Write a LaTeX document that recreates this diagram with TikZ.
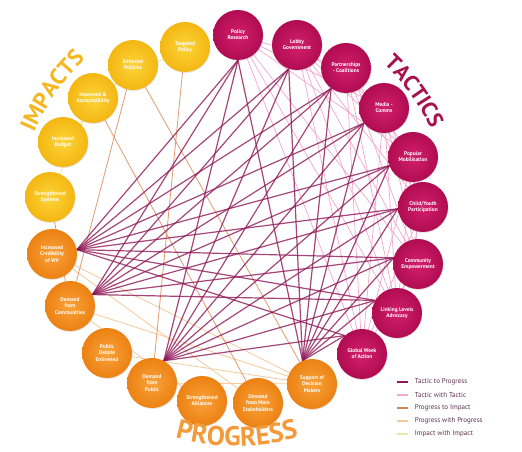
\documentclass[tikz,border=0pt]{standalone}
\usepackage{fontspec}
\setmainfont{PT Sans}
\usetikzlibrary{decorations.text,shadows}
\definecolor{tacIn}{HTML}{D4206C}
\definecolor{tacOut}{HTML}{B00C52}
\definecolor{tacTxt}{HTML}{A8104E}
\definecolor{proIn}{HTML}{F9A23A}
\definecolor{proOut}{HTML}{EC8112}
\definecolor{proTxt}{HTML}{F39A3A}
\definecolor{impIn}{HTML}{FCD43A}
\definecolor{impOut}{HTML}{F4B712}
\definecolor{impTxt}{HTML}{F5B61E}
\definecolor{ctp}{HTML}{8E1858}
\definecolor{ctt}{HTML}{F2A8CE}
\definecolor{cpi}{HTML}{D9844E}
\definecolor{cpp}{HTML}{F7CA9C}
\definecolor{cii}{HTML}{E4EAA6}
\definecolor{legTxt}{HTML}{5A3050}
\pgfdeclarelayer{bg}
\pgfdeclarelayer{edges}
\pgfsetlayers{bg,edges,main}
\tikzset{
  ball/.style={circle, minimum size=50pt, inner sep=0pt, align=center,
    font=\fontsize{5.4}{6.2}\selectfont\bfseries, text=white,
    drop shadow={shadow xshift=0.6pt, shadow yshift=-1pt, opacity=0.2}},
  tac/.style={ball, inner color=tacIn, outer color=tacOut},
  pro/.style={ball, inner color=proIn, outer color=proOut},
  imp/.style={ball, inner color=impIn, outer color=impOut},
  tp/.style={draw=ctp, line width=1.2pt, opacity=0.8},
  tt/.style={draw=ctt, line width=0.7pt},
  pi/.style={draw=cpi, line width=0.8pt, opacity=0.8},
  pp/.style={draw=cpp, line width=0.8pt},
  ii/.style={draw=cii, line width=0.8pt},
  legtext/.style={anchor=west, inner sep=0pt, font=\fontsize{7}{8}\selectfont, text=legTxt}
}
\begin{document}
\begin{tikzpicture}[x=1pt,y=1pt]
\begin{pgfonlayer}{bg}
\fill[white] (0,0) rectangle (522,452);
\end{pgfonlayer}
\useasboundingbox (0,0) rectangle (522,452);
% tactics
\node[tac] (PR) at (238,417) {Policy\\Research};
\node[tac] (LG) at (297,407) {Lobby\\Government};
\node[tac] (PC) at (346,384) {Partnerships\\- Coalitions};
\node[tac] (MC) at (384,344) {Media -\\Comms};
\node[tac] (PM) at (413,295) {Popular\\Mobilisation};
\node[tac] (CY) at (423,245) {Child/Youth\\Participation};
\node[tac] (CE) at (418,188) {Community\\Empowerment};
\node[tac] (LL) at (397,139) {Linking Levels\\Advocacy};
\node[tac] (GW) at (362,98) {Global Week\\of Action};
% progress
\node[pro] (SDM) at (312,68) {Support of\\Decision\\Makers};
\node[pro] (DMS) at (258,49) {Demand\\from Main\\Stakeholders};
\node[pro] (SA) at (202,51) {Strengthened\\Alliances};
\node[pro] (DP) at (152,69) {Demand\\from\\Public};
\node[pro] (PD) at (107,99) {Public\\Debate\\Enlivened};
\node[pro] (DG) at (70,146) {Demand\\from\\Communities};
\node[pro] (IC) at (52,198) {Increased\\Credibility\\of WV};
% impacts
\node[imp] (SS) at (50,255) {Strengthened\\Systems};
\node[imp] (IB) at (63,310) {Increased\\Budget};
\node[imp] (IA) at (93,354) {Improved \&\\Accountability};
\node[imp] (EN) at (133,387) {Enforced\\Policies};
\node[imp] (TP) at (185,405) {Targeted\\Policy};

\begin{pgfonlayer}{edges}
\foreach \a/\b in {PR/PC, PR/MC, PR/PM, PR/CE, PR/LL, PR/GW, LG/MC, LG/PM, LG/CY, LG/CE,
  LG/LL, LG/GW, PC/PM, PC/CY, PC/CE, PC/LL, PC/GW, MC/CY, MC/CE, MC/LL, MC/GW,
  PM/CE, PM/LL, PM/GW, CY/LL, CY/GW, CE/GW}
  \draw[tt] (\a) -- (\b);
\foreach \a/\b in {SS/IA, IB/EN, IA/TP}
  \draw[ii] (\a) -- (\b);
\foreach \a/\b in {IC/SDM, DG/SDM, DP/SDM, IC/DMS, DG/SA, PD/SDM}
  \draw[pp] (\a) -- (\b);
\foreach \a/\b in {EN/DG, EN/SDM, SS/DG, IA/DMS, TP/DP}
  \draw[pi] (\a) -- (\b);
\foreach \a/\ai/\b/\bi in {
  PR/270/IC/10, PR/270/DG/27, PR/270/DP/62, PR/270/SDM/112,
  LG/251/IC/10, LG/251/DG/27, LG/251/DP/62, LG/251/SDM/112,
  PC/234/IC/10, PC/234/DG/27, PC/234/DP/62, PC/234/SDM/112,
  MC/217/IC/10, MC/217/DG/27, MC/217/DP/62, MC/217/SDM/112,
  PM/200/IC/10, PM/200/DG/27, PM/200/DP/62, PM/200/SDM/112,
  CY/184/IC/10, CY/184/DG/27, CY/184/DP/62, CY/184/SDM/112,
  CE/166/IC/10, CE/166/DG/27, CE/166/DP/62, CE/166/SDM/112,
  LL/150/IC/10, LL/150/DG/27, LL/150/DP/62, LL/150/SDM/112,
  GW/133/IC/10, GW/133/DP/62, GW/133/SDM/112}
  \draw[tp] (\a.\ai) -- (\b.\bi);
\end{pgfonlayer}

% big arc labels
\path[decorate, decoration={text along path, text align=center,
  text={|\fontsize{22}{22}\selectfont\bfseries\color{tacTxt}|TACTICS}}]
  (237,232) ++(64:214) arc[start angle=64, end angle=8, radius=214];
\path[decorate, decoration={text along path, text align=center,
  text={|\fontsize{23}{23}\selectfont\bfseries\color{impTxt}|IMPACTS}}]
  (237,232) ++(176:221) arc[start angle=176, end angle=114, radius=221];
\path[decorate, decoration={text along path, text align=center,
  text={|\fontsize{27}{27}\selectfont\bfseries\color{proTxt}|PROGRESS}}]
  (237,232) ++(236:226) arc[start angle=236, end angle=304, radius=226];

% legend
\coordinate (L1) at (397,70);
\coordinate (L2) at (397,57);
\coordinate (L3) at (397,44);
\coordinate (L4) at (397,31);
\coordinate (L5) at (397,18);
\draw[draw=ctp, line width=1.8pt] (L1) -- ++(11,0) node[legtext, xshift=6pt] (T1) {Tactic to Progress};
\draw[draw=ctt, line width=1.8pt] (L2) -- ++(11,0) node[legtext, xshift=6pt] (T2) {Tactic with Tactic};
\draw[draw=cpi, line width=1.8pt] (L3) -- ++(11,0) node[legtext, xshift=6pt] (T3) {Progress to Impact};
\draw[draw=cpp, line width=1.8pt] (L4) -- ++(11,0) node[legtext, xshift=6pt] (T4) {Progress with Progress};
\draw[draw=cii, line width=1.8pt] (L5) -- ++(11,0) node[legtext, xshift=6pt] (T5) {Impact with Impact};
\end{tikzpicture}
\end{document}
